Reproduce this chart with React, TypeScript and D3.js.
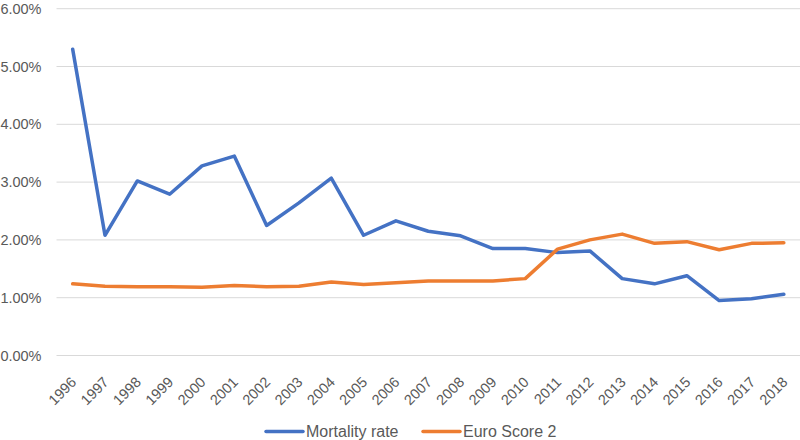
import React from "react";
import * as d3 from "d3";

const years = ["1996","1997","1998","1999","2000","2001","2002","2003","2004","2005","2006","2007","2008","2009","2010","2011","2012","2013","2014","2015","2016","2017","2018"];
const mortality = [5.30,2.08,3.02,2.79,3.28,3.45,2.25,2.64,3.07,2.08,2.33,2.15,2.07,1.85,1.85,1.78,1.81,1.33,1.24,1.38,0.95,0.98,1.06];
const euroScore = [1.24,1.20,1.19,1.19,1.18,1.21,1.19,1.20,1.27,1.23,1.26,1.29,1.29,1.29,1.33,1.84,2.00,2.10,1.94,1.97,1.83,1.94,1.95];
const yTicks = [0,1,2,3,4,5,6];
const seriesNames = ["Mortality rate", "Euro Score 2"];

const W = 800, H = 440;
const m = { left: 56.5, right: 800, top: 8.7, bottom: 355.5 };
const font = "'Liberation Sans', 'DejaVu Sans', sans-serif";
const textColor = "#595959";
const colors = ["#4472C4", "#ED7D31"];

export default function App() {
  const x = d3.scaleBand<string>().domain(years).range([m.left, m.right]);
  const y = d3.scaleLinear().domain([0, 6]).range([m.bottom, m.top]);
  const cx = (yr: string) => (x(yr) as number) + x.bandwidth() / 2;
  const line = d3.line<number>().x((_, i) => cx(years[i])).y((v) => y(v));
  const series = [mortality, euroScore];
  const legendX = [266, 423];
  return (
    <div style={{ position: "fixed", left: 0, top: 0 }}>
      <svg width={W} height={H} style={{ display: "block", background: "#fff" }}>
        {yTicks.map((t) => (
          <g key={t}>
            <line x1={m.left} x2={m.right} y1={y(t)} y2={y(t)} stroke="#d9d9d9" strokeWidth={1} />
            <text x={41.5} y={y(t)} dy="0.35em" textAnchor="end" fontFamily={font} fontSize={14.5} fill={textColor}>
              {t.toFixed(2) + "%"}
            </text>
          </g>
        ))}
        {years.map((yr) => (
          <text
            key={yr}
            transform={`translate(${cx(yr) + 1},${m.bottom + 24}) rotate(-45)`}
            textAnchor="end"
            dy="0.35em"
            fontFamily={font}
            fontSize={14.5}
            fill={textColor}
          >
            {yr}
          </text>
        ))}
        {series.map((s, i) => (
          <path key={i} d={line(s) || ""} fill="none" stroke={colors[i]} strokeWidth={3.5} strokeLinejoin="round" strokeLinecap="round" />
        ))}
        {seriesNames.map((n, i) => {
          const lx = legendX[i];
          return (
            <g key={n}>
              <line x1={lx} x2={lx + 37} y1={431.5} y2={431.5} stroke={colors[i]} strokeWidth={3.5} strokeLinecap="round" />
              <text x={lx + 40} y={431.5} dy="0.35em" fontFamily={font} fontSize={16} fill={textColor}>{n}</text>
            </g>
          );
        })}
      </svg>
    </div>
  );
}
